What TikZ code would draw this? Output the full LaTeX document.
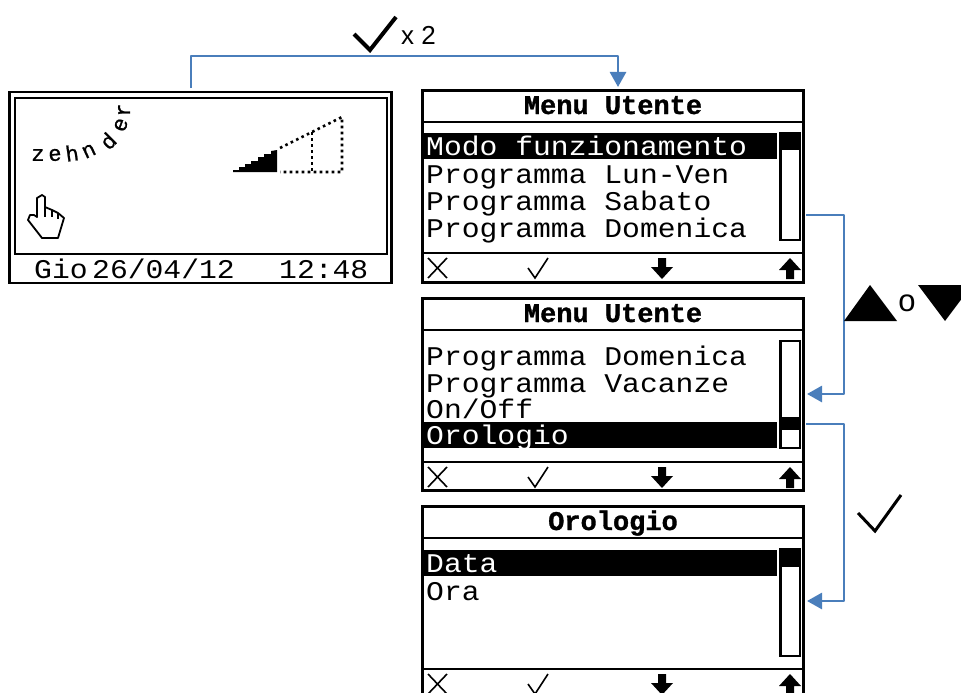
\documentclass[tikz,border=0pt]{standalone}
\usepackage{fontspec}
\setmainfont{Liberation Sans}
\newfontfamily\lcdfont[FakeStretch = 1.1]{Liberation Mono}
\newfontfamily\lcdheavy[FakeBold = 1.2]{Liberation Mono Bold}
\newfontfamily\logofont[FakeBold = 0.8]{Liberation Mono}
\usetikzlibrary{arrows.meta}
\tikzset{
  screenbox/.style = {draw, line width = 2.2pt, inner sep = 0pt, outer sep = 0pt},
  rowtext/.style = {anchor = base west, inner sep = 0pt, font = \lcdfont\fontsize{27}{28}\selectfont},
  titletext/.style = {anchor = base, inner sep = 0pt, font = \lcdheavy\fontsize{27}{30}\selectfont},
  logotext/.style = {inner sep = 0pt, font = \logofont\fontsize{22}{22}\selectfont},
  rule/.style = {line width = 2.2pt},
  link/.style = {draw = linkblue, line width = 2.8pt, line join = round},
  dots/.style = {line width = 2.6pt, dash pattern = on 2.6pt off 3.4pt}
}
\definecolor{linkblue}{HTML}{4A7EBB}
\begin{document}
\begin{tikzpicture}[x = 1pt, y = -1pt]
\useasboundingbox (0, 0) rectangle (961, 693);
\clip (0, 0) rectangle (961, 693);

% home screen
\node[screenbox, minimum width = 382pt, minimum height = 191pt] (home) at (200.5, 187.5) {};
\draw[rule] (15, 98) rectangle (387, 254);
\foreach \lx/\ly/\la/\lt [count = \i] in {38/155/0/z, 55/155/5/e, 72/153/8/h, 89/151/25/n, 108/141/45/d, 121/125/70/e, 124/110/90/r}
  \node[logotext, rotate = \la] (logo\i) at (\lx, \ly) {\lt};
\fill (233, 172) -- (233, 170) -- (239, 170) -- (239, 167) -- (245, 167) -- (245, 164) -- (251, 164) -- (251, 161) -- (258, 161) -- (258, 157) -- (264, 157) -- (264, 154) -- (271, 154) -- (271, 151) -- (277, 150) -- (277, 172) -- cycle;
\draw[dots] (280, 148) -- (342, 117) -- (342, 172) -- (280, 172);
\draw[dots] (312, 132) -- (312, 172);
\draw[line width = 1.8pt, line join = round] (42, 195) -- (37, 198) -- (37, 217) -- (34, 215) -- (30, 215) -- (28, 220) -- (42, 238) -- (58, 238) -- (64, 218) -- (58, 213) -- (52, 210) -- (45, 207) -- (45, 197) -- cycle;
\draw[line width = 1.6pt] (45, 207) -- (45, 217) (52, 210) -- (52, 217) (58, 213) -- (58, 219);
\node[rowtext] (homeday) at (34, 278) {Gio};
\node[rowtext] (homedate) at (92, 278) {26/04/12};
\node[rowtext] (hometime) at (279, 278) {12:48};

% menu screens
\foreach \nm/\oy/\ttl/\sb/\sh/\st/\fb in {menua/0/Menu Utente/240/133/150/253, menub/208/Menu Utente/448/417/430/462, menuc/416/Orologio/656/550/567/669}{
  \node[screenbox, minimum width = 381pt, minimum height = 192pt] (\nm) at (613, 186.5 + \oy) {};
  \node[titletext] (\nm title) at (613, 114 + \oy) {\ttl};
  \draw[rule] (423, 122 + \oy) -- (804, 122 + \oy);
  \draw[rule] (423, \fb) -- (804, \fb);
  \draw[rule] (780.5, 133 + \oy) rectangle (800, \sb);
  \fill (780, \sh) rectangle (801, \st);
  % footer icons
  \draw[line width = 1.6pt] (428, \fb + 5) -- (447, \fb + 25) (447, \fb + 5) -- (428, \fb + 25);
  \draw[line width = 1.6pt] (528, \fb + 15) -- (535, \fb + 25) -- (548, \fb + 5);
  \fill (658, \fb + 5) -- (666, \fb + 5) -- (666, \fb + 14) -- (673, \fb + 14) -- (662, \fb + 26) -- (651, \fb + 14) -- (658, \fb + 14) -- cycle;
  \fill (790, \fb + 5) -- (801, \fb + 17) -- (794, \fb + 17) -- (794, \fb + 26) -- (786, \fb + 26) -- (786, \fb + 17) -- (779, \fb + 17) -- cycle;
}
\fill (424, 133) rectangle (777, 159);
\fill (424, 422) rectangle (777, 448);
\fill (424, 550) rectangle (777, 576);

\node[rowtext, text = white] (rowmodo) at (426, 155) {Modo funzionamento};
\node[rowtext] (rowlunven) at (426, 183) {Programma Lun-Ven};
\node[rowtext] (rowsabato) at (426, 210) {Programma Sabato};
\node[rowtext] (rowdomenica) at (426, 237) {Programma Domenica};
\node[rowtext] (rowdomenicab) at (426, 365) {Programma Domenica};
\node[rowtext] (rowvacanze) at (426, 392) {Programma Vacanze};
\node[rowtext] (rowonoff) at (426, 418) {On/Off};
\node[rowtext, text = white] (rowclock) at (426, 444) {Orologio};
\node[rowtext, text = white] (rowdata) at (426, 572) {Data};
\node[rowtext] (rowora) at (426, 600) {Ora};

% connectors
\coordinate (homeout) at (191, 88);
\coordinate (toprail) at (191, 56);
\coordinate (menuain) at (618, 87);
\coordinate (menuaout) at (806, 215);
\coordinate (menubin) at (807, 394);
\coordinate (menubout) at (806, 424);
\coordinate (menucin) at (807, 601);
\draw[link, -{Triangle[length = 15pt, width = 16pt]}] (homeout) -- (toprail) -| (menuain);
\draw[link, -{Triangle[length = 15pt, width = 16pt]}] (menuaout) -- ++(38, 0) |- (menubin);
\draw[link, -{Triangle[length = 15pt, width = 16pt]}] (menubout) -- ++(38, 0) |- (menucin);

% key symbols
\draw[line width = 4pt, line join = miter] (354, 34) -- (370, 50) -- (396, 17);
\node[anchor = base west, inner sep = 0pt, font = \fontsize{26}{28}\selectfont] (twice) at (401, 45) {x 2};
\fill (844, 321) -- (870, 285) -- (897, 321) -- cycle;
\node[anchor = base, inner sep = 0pt, font = \fontsize{31}{32}\selectfont] (either) at (907, 311) {o};
\fill (918, 285) -- (972, 285) -- (945, 321) -- cycle;
\draw[line width = 3pt, line join = miter] (858, 513) -- (875, 531) -- (901, 495);
\end{tikzpicture}
\end{document}
